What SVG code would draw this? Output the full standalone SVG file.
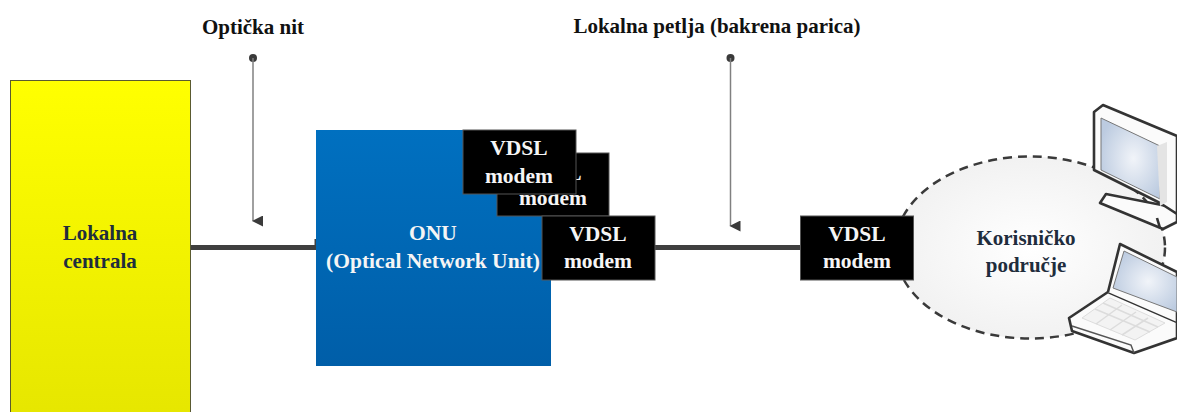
<svg xmlns="http://www.w3.org/2000/svg" width="1177" height="412" viewBox="0 0 1177 412">
<style>
text{font-family:"Liberation Serif","Times New Roman",serif;font-weight:700;text-anchor:middle}
.d{fill:#111;font-size:21px}
.l{fill:#1f2d3d;font-size:21px}
.w{fill:#f5f5f5;font-size:21.5px}
.m rect{fill:#000;stroke:#555;stroke-width:1}
.c{stroke:#3f3f3f;stroke-width:5;fill:none}
.p{stroke:#808080;stroke-width:1.5;fill:none;marker-end:url(#a)}
.o{stroke:#333;stroke-width:2.6;stroke-linejoin:round;fill:#fbfbfb}
.t{stroke:#777;stroke-width:1;fill:#f1f1f1}
</style>
<defs>
<marker id="a" markerUnits="userSpaceOnUse" markerWidth="12" markerHeight="12" refX="5.5" refY="10" orient="auto-start-reverse" viewBox="0 0 12 12"><path d="M0 0L11 0L5.5 11Z" fill="#3a3a3a" transform="rotate(0)"/></marker>
<linearGradient id="y" x1="0" y1="0" x2="0" y2="1"><stop offset="0" stop-color="#ffff00"/><stop offset="1" stop-color="#e6e600"/></linearGradient>
<linearGradient id="b" x1="0" y1="0" x2="0" y2="1"><stop offset="0" stop-color="#0070c0"/><stop offset="1" stop-color="#005ea8"/></linearGradient>
<radialGradient id="e" cx="0.5" cy="0.5" r="0.6"><stop offset="0" stop-color="#fff"/><stop offset="1" stop-color="#efefef"/></radialGradient>
<radialGradient id="s" cx="0.55" cy="0.5" r="0.6"><stop offset="0" stop-color="#f1f4f9"/><stop offset="1" stop-color="#bccbe0"/></radialGradient>
</defs>
<text class="d" x="253" y="34">Optička nit</text>
<text class="d" x="717" y="33">Lokalna petlja (bakrena parica)</text>
<g id="connectors">
<path class="c" d="M189 247.500H317"/>
<path d="M316 239V250" stroke="#3f3f3f" stroke-width="3"/>
<path class="c" d="M654 247.500H801"/>
<circle cx="253" cy="58" r="4" fill="#3a3a3a"/>
<circle cx="730.500" cy="58" r="4" fill="#3a3a3a"/>
<path class="p" d="M253 58V221"/>
<path class="p" d="M730.500 58V226"/>
</g>
<g id="lokalna-centrala">
<rect x="10.500" y="80.500" width="180" height="340" fill="url(#y)" stroke="#5a5a30"/>
<text class="l" x="100" y="240">Lokalna</text>
<text class="l" x="100" y="268">centrala</text>
</g>
<g id="onu">
<rect x="316" y="130" width="235" height="236" fill="url(#b)"/>
<text class="w" x="433" y="240">ONU</text>
<text class="w" x="433" y="268">(Optical Network Unit)</text>
</g>
<g id="korisnicko-podrucje">
<ellipse cx="1030" cy="247.500" rx="135" ry="91" fill="url(#e)" stroke="#3a3a3a" stroke-width="2.500" stroke-dasharray="9 6"/>
<text class="l" x="1026" y="245">Korisničko</text>
<text class="l" x="1026" y="272">područje</text>
</g>
<g id="modem-2" class="m">
<rect x="497" y="153" width="112" height="63"/>
<text class="w" x="553" y="180">VDSL</text>
<text class="w" x="553" y="205">modem</text>
</g>
<g id="modem-1" class="m">
<rect x="463" y="130" width="113" height="64"/>
<text class="w" x="519" y="155">VDSL</text>
<text class="w" x="519" y="183">modem</text>
</g>
<g id="modem-3" class="m">
<rect x="542" y="216" width="113" height="64"/>
<text class="w" x="598" y="241">VDSL</text>
<text class="w" x="598" y="268">modem</text>
</g>
<g id="modem-4" class="m">
<rect x="800.500" y="216" width="113" height="64"/>
<text class="w" x="857" y="241">VDSL</text>
<text class="w" x="857" y="268">modem</text>
</g>
<g id="desktop">
<path class="o" d="M1106 194L1100 203L1163 229L1177 222V208Z"/>
<path class="o" d="M1094 112L1103 105L1177 136V214L1160 203L1094 170Z"/>
<path class="t" d="M1101 118L1160 146V199L1101 170Z" fill="url(#s)" style="fill:url(#s)"/>
<path d="M1157 146L1167 142V202L1160 206Z" fill="#e4e4e4"/>
<path class="o" d="M1157 218L1160 228" fill="none"/>
</g>
<g id="laptop">
<path class="o" d="M1069 318L1108 292L1177 322V338L1134 353L1072 331Z"/>
<path class="o" d="M1108 292L1120 244L1177 272V322" fill="#fbfbfb"/>
<path class="t" d="M1113 288L1124 251L1177 277V312Z" style="fill:url(#s)"/>
<path d="M1082 318L1110 298L1165 323L1135 340Z" fill="#f3f3f3" stroke="#ddd"/>
<path d="M1095 309L1150 332M1103 303L1158 327M1096 324L1122 305M1110 330L1136 312M1122 335L1148 318" stroke="#dcdcdc" stroke-width="1.500" fill="none"/>
<path d="M1072 326L1131 345L1134 353" stroke="#555" stroke-width="1.500" fill="none"/>
</g>
</svg>
